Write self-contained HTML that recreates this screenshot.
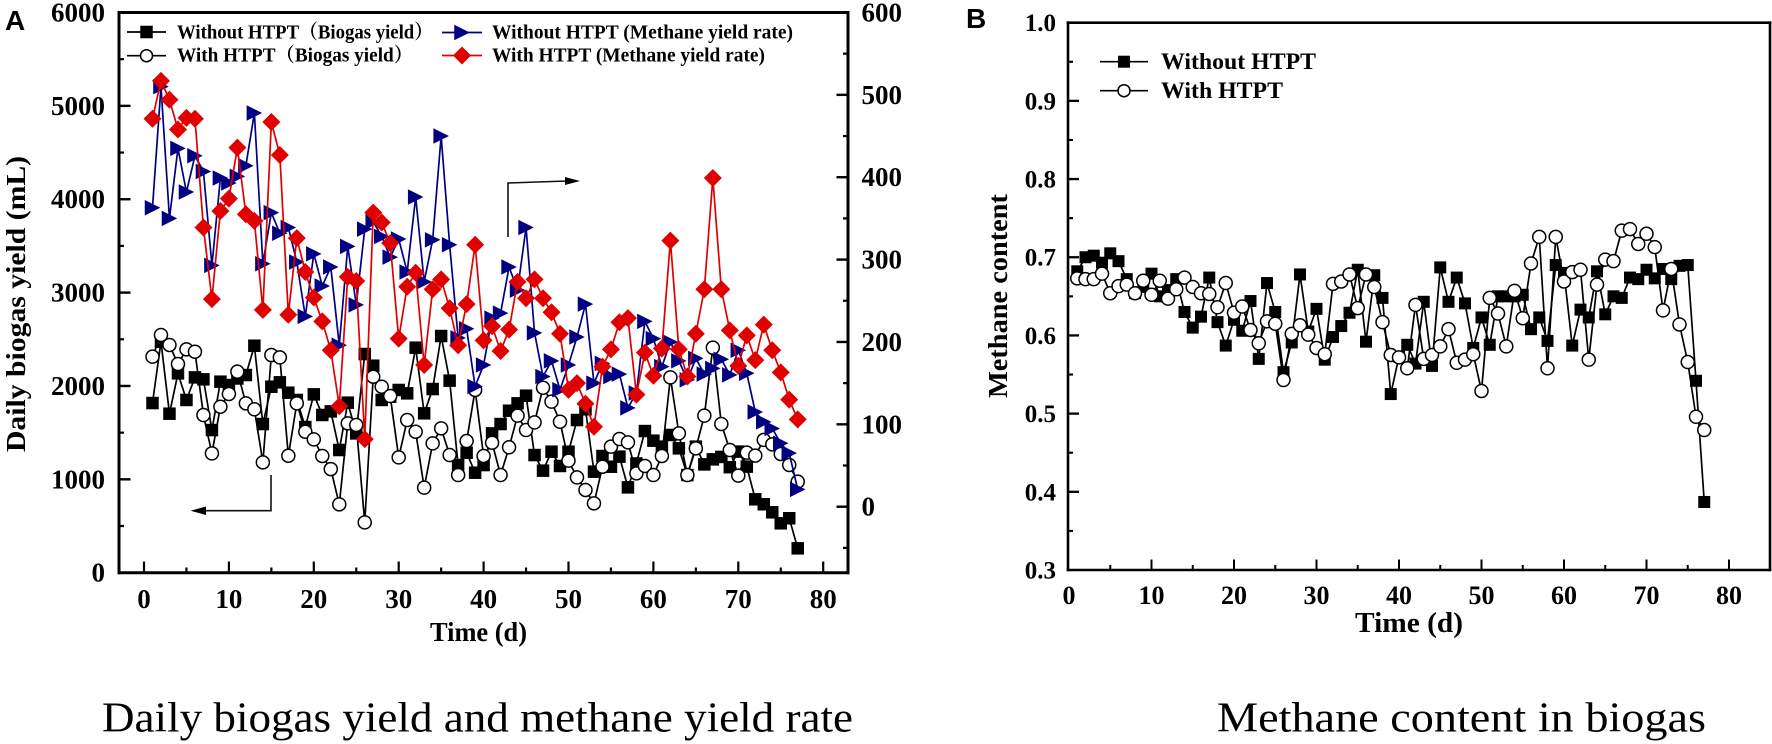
<!DOCTYPE html>
<html lang="en">
<head>
<meta charset="utf-8">
<title>Daily biogas yield, methane yield rate and methane content</title>
<style>
html,body{margin:0;padding:0;background:#fff;width:1772px;height:744px;overflow:hidden}
svg{display:block}
text{font-family:"Liberation Serif","Noto Serif CJK SC",serif;fill:#000}
.b{font-weight:bold}
</style>
</head>
<body>
<svg id="fig" xmlns="http://www.w3.org/2000/svg" width="1772" height="744" viewBox="0 0 1772 744">
  <rect x="0" y="0" width="1772" height="744" fill="#fff"/>

  <g id="panelA">
    <text x="5" y="30" style="font-family:'Liberation Sans',sans-serif;font-weight:bold;font-size:28px">A</text>
    <g id="axesA"></g>
    <g id="marksA"></g>
    <text class="b" transform="translate(25,452) rotate(-90)" font-size="27" textLength="296" lengthAdjust="spacingAndGlyphs">Daily biogas yield (mL)</text>
    <text class="b" x="430" y="641" font-size="27" textLength="97" lengthAdjust="spacingAndGlyphs">Time (d)</text>
    <path d="M271 475V510.7H204" fill="none" stroke="#111" stroke-width="1.6"/>
    <path d="M190.5 510.7L206 506.5V515Z" fill="#000"/>
    <path d="M508 237V183L567 181" fill="none" stroke="#111" stroke-width="1.6"/>
    <path d="M580 181L565 177V185Z" fill="#000"/>
    <g id="legendA">
      <text class="b" x="177" y="38.5" font-size="20" textLength="256" lengthAdjust="spacingAndGlyphs">Without HTPT（Biogas yield）</text>
      <text class="b" x="177" y="61.7" font-size="20" textLength="236" lengthAdjust="spacingAndGlyphs">With HTPT（Biogas yield）</text>
      <text class="b" x="492" y="38.5" font-size="20" textLength="301" lengthAdjust="spacingAndGlyphs">Without HTPT (Methane yield rate)</text>
      <text class="b" x="492" y="61.7" font-size="20" textLength="273" lengthAdjust="spacingAndGlyphs">With HTPT (Methane yield rate)</text>
    </g>
  </g>

  <g id="panelB">
    <text x="966" y="28" style="font-family:'Liberation Sans',sans-serif;font-weight:bold;font-size:28px">B</text>
    <g id="axesB"></g>
    <g id="marksB"></g>
    <text class="b" transform="translate(1007,398) rotate(-90)" font-size="27" textLength="204" lengthAdjust="spacingAndGlyphs">Methane content</text>
    <text class="b" x="1355" y="632" font-size="28" textLength="108" lengthAdjust="spacingAndGlyphs">Time (d)</text>
    <g id="legendB">
      <text class="b" x="1161" y="69" font-size="23" textLength="155" lengthAdjust="spacingAndGlyphs">Without HTPT</text>
      <text class="b" x="1161" y="98" font-size="23" textLength="122" lengthAdjust="spacingAndGlyphs">With HTPT</text>
    </g>
  </g>

  <text x="102" y="731.5" font-size="42" textLength="751" lengthAdjust="spacingAndGlyphs">Daily biogas yield and methane yield rate</text>
  <text x="1217" y="731.5" font-size="42" textLength="489" lengthAdjust="spacingAndGlyphs">Methane content in biogas</text>
</svg>

<script>
const biogasWithout = [1817,2474,1703,2135,1850,2092,2071,1528,2046,2010,2080,2117,2431,1592,1992,2039,1928,1850,1560,1910,1689,1728,1314,1821,1492,2342,2217,1850,1885,1957,1921,2410,1707,1967,2535,2057,1153,1285,1071,1153,1492,1592,1735,1814,1896,1260,1093,1296,1143,1296,1635,1750,1082,1250,1135,1243,914,1170,1517,1414,1350,1475,1332,1046,1350,1160,1214,1240,1130,1297,1136,786,733,647,529,583,261];
const biogasWith = [2314,2546,2439,2235,2392,2367,1689,1278,1778,1914,2153,1814,1750,1182,2331,2306,1253,1814,1510,1428,1250,1110,732,1600,1582,539,2099,1992,1892,1235,1635,1510,911,1385,1546,1260,1046,1410,1957,1250,1392,1046,1343,1682,1528,1610,1981,1832,1617,1200,1021,886,743,1135,1350,1432,1396,1064,1143,1046,1250,2092,1492,1046,1332,1682,2410,1593,1314,1040,1286,1254,1422,1375,1272,1154,975];
const rateWithout = [363,510,350,435,382,426,407,293,399,393,401,414,478,295,357,332,339,297,231,307,268,291,196,316,245,337,346,328,303,325,285,376,273,324,450,318,205,216,146,172,229,235,291,263,339,211,158,177,142,172,206,246,150,174,158,161,120,138,225,204,170,200,177,154,180,161,168,179,160,190,162,115,103,95,77,65,21];
const rateWith = [471,517,494,458,472,471,339,252,359,374,436,355,347,239,467,427,233,326,285,254,225,190,122,279,274,82,357,345,320,204,267,284,172,264,276,241,196,246,318,202,219,189,215,273,253,276,253,236,210,142,150,125,97,170,191,224,229,136,187,159,192,323,191,158,210,264,399,264,214,171,208,178,221,190,163,130,106];
const contentWithout = [0.682,0.7,0.702,0.693,0.705,0.695,0.672,0.654,0.662,0.679,0.65,0.658,0.672,0.63,0.61,0.624,0.674,0.617,0.587,0.62,0.606,0.644,0.57,0.667,0.63,0.553,0.591,0.678,0.605,0.634,0.569,0.598,0.612,0.629,0.684,0.592,0.677,0.648,0.525,0.573,0.588,0.564,0.643,0.561,0.687,0.643,0.674,0.641,0.584,0.623,0.588,0.65,0.65,0.65,0.652,0.608,0.623,0.593,0.69,0.68,0.587,0.633,0.623,0.682,0.627,0.65,0.648,0.674,0.672,0.684,0.673,0.685,0.672,0.689,0.69,0.542,0.387];
const contentWith = [0.673,0.672,0.672,0.679,0.654,0.663,0.665,0.654,0.67,0.652,0.67,0.647,0.659,0.674,0.662,0.654,0.653,0.636,0.667,0.629,0.637,0.607,0.59,0.618,0.615,0.543,0.602,0.613,0.601,0.584,0.576,0.666,0.669,0.678,0.635,0.678,0.662,0.617,0.575,0.572,0.558,0.639,0.57,0.575,0.586,0.608,0.565,0.569,0.576,0.529,0.648,0.628,0.586,0.657,0.622,0.692,0.726,0.558,0.726,0.669,0.681,0.684,0.569,0.665,0.697,0.695,0.734,0.736,0.717,0.73,0.713,0.632,0.685,0.614,0.566,0.496,0.479];
const xTickLabels = [0,10,20,30,40,50,60,70,80];
const xMinorTicks = [5,15,25,35,45,55,65,75];
const leftTickLabels = [0,1000,2000,3000,4000,5000,6000];
const leftMinorTicks = [500,1500,2500,3500,4500,5500];
const rightTickLabels = [0,100,200,300,400,500,600];
const rightMinorTicks = [-50,50,150,250,350,450,550];
const contentTickLabels = [0.3,0.4,0.5,0.6,0.7,0.8,0.9,1.0];
const contentMinorTicks = [0.35,0.45,0.55,0.65,0.75,0.85,0.95];

const NS = 'http://www.w3.org/2000/svg';
function make(parent, tag, attrs, txt) {
  const n = document.createElementNS(NS, tag);
  for (const k in attrs) n.setAttribute(k, attrs[k]);
  if (txt !== undefined) n.textContent = txt;
  parent.appendChild(n);
  return n;
}
// axis functions
const xA = d => 144 + 8.49 * d;
const yLeft = v => 572.7 - v * (560.2 / 6000);
const yRight = v => 506.7 - v * 0.8237;
const xB = d => 1069 + 8.25 * d;
const yB = v => 570 - (v - 0.3) * 781.9;

function drawMarker(g, kind, x, y, s) {
  let m;
  if (kind === 'square') {
    m = make(g, 'rect', {x: x - s / 2, y: y - s / 2, width: s, height: s, fill: '#000'});
  } else if (kind === 'circle') {
    m = make(g, 'circle', {cx: x, cy: y, r: s / 2, fill: '#fff', stroke: '#000', 'stroke-width': 1.5});
  } else if (kind === 'triangle') {
    m = make(g, 'path', {d: 'M' + (x - s / 2) + ' ' + (y - s / 2) + 'L' + (x + s / 2) + ' ' + y + 'L' + (x - s / 2) + ' ' + (y + s / 2) + 'Z', fill: '#000080'});
  } else {
    m = make(g, 'path', {d: 'M' + x + ' ' + (y - s / 2) + 'L' + (x + s / 2) + ' ' + y + 'L' + x + ' ' + (y + s / 2) + 'L' + (x - s / 2) + ' ' + y + 'Z', fill: '#e00000'});
  }
  return m;
}

function drawSeries(parent, values, xf, yf, kind, size, color, offset) {
  const g = make(parent, 'g', {});
  const pts = values.map((v, i) => xf(i + 1) + ',' + yf(v)).join(' ');
  const line = make(g, 'polyline', {points: pts, fill: 'none', stroke: color, 'stroke-width': 1.7, 'stroke-linejoin': 'round'});
  
  
  values.forEach((v, i) => {
    const m = drawMarker(g, kind, xf(i + 1) + offset, yf(v), size);
    
    
  });
  return g;
}

function legendSample(parent, x1, x2, y, kind, size, color) {
  const l = make(parent, 'line', {x1: x1, x2: x2, y1: y, y2: y, stroke: color, 'stroke-width': 1.7});
  
  
  const m = drawMarker(parent, kind, (x1 + x2) / 2, y, size);
  
  
}

function axisLine(parent, x1, y1, x2, y2, w) {
  const l = make(parent, 'line', {x1: x1, y1: y1, x2: x2, y2: y2, stroke: '#000', 'stroke-width': w, 'stroke-linecap': 'square'});
  
  
}
function tick(parent, x1, y1, x2, y2, w) {
  const l = make(parent, 'line', {x1: x1, y1: y1, x2: x2, y2: y2, stroke: '#000', 'stroke-width': w});
  
  
}
function label(parent, x, y, anchor, size, str) {
  const t = make(parent, 'text', {x: x, y: y, 'text-anchor': anchor, 'font-size': size, 'font-weight': 'bold'}, str);
  
  
}

// Panel A axes
const axesA = document.getElementById('axesA');
axisLine(axesA, 119, 12.5, 848, 12.5, 3);
axisLine(axesA, 119, 12.5, 119, 572.7, 3);
axisLine(axesA, 848, 12.5, 848, 572.7, 3);
axisLine(axesA, 119, 572.7, 848, 572.7, 3);
leftTickLabels.forEach(v => {
  if (v > 0) tick(axesA, 119, yLeft(v), 130.5, yLeft(v), 2.4);
  label(axesA, 105, yLeft(v) + 9, 'end', 27, String(v));
});
leftMinorTicks.forEach(v => tick(axesA, 119, yLeft(v), 124, yLeft(v), 2.2));
rightTickLabels.forEach(v => {
  tick(axesA, 848, yRight(v), 836.5, yRight(v), 2.4);
  label(axesA, 861.5, yRight(v) + 9, 'start', 27, String(v));
});
rightMinorTicks.forEach(v => tick(axesA, 848, yRight(v), 843, yRight(v), 2.2));
xTickLabels.forEach(d => {
  tick(axesA, xA(d), 572.7, xA(d), 561.5, 2.2);
  label(axesA, xA(d), 608, 'middle', 27, String(d));
});
xMinorTicks.forEach(d => tick(axesA, xA(d), 572.7, xA(d), 567.5, 2.2));

// Panel A series
const marksA = document.getElementById('marksA');
const sBioNo = drawSeries(marksA, biogasWithout, xA, yLeft, 'square', 12.5, '#000', 0);


const sBioWith = drawSeries(marksA, biogasWith, xA, yLeft, 'circle', 13, '#000', 0);


const sRateNo = drawSeries(marksA, rateWithout, xA, yRight, 'triangle', 15.5, '#000080', 0);


const sRateWith = drawSeries(marksA, rateWith, xA, yRight, 'diamond', 18, '#e00000', 0);



const legendA = document.getElementById('legendA');
legendSample(legendA, 127, 166, 32, 'square', 12.5, '#000');
legendSample(legendA, 127, 166, 55.7, 'circle', 12, '#000');
legendSample(legendA, 442, 482, 32.5, 'triangle', 15.5, '#000080');
legendSample(legendA, 442, 482, 55.5, 'diamond', 18, '#e00000');

// Panel B axes
const axesB = document.getElementById('axesB');
axisLine(axesB, 1068, 22.7, 1770, 22.7, 2.6);
axisLine(axesB, 1068, 22.7, 1068, 570, 2.6);
axisLine(axesB, 1770, 22.7, 1770, 570, 2.6);
axisLine(axesB, 1068, 570, 1770, 570, 2.6);
contentTickLabels.forEach(v => {
  if (v > 0.3) tick(axesB, 1068, yB(v), 1079, yB(v), 2.3);
  label(axesB, 1056, yB(v) + 8.5, 'end', 25, v.toFixed(1));
});
contentMinorTicks.forEach(v => tick(axesB, 1068, yB(v), 1073, yB(v), 2.1));
xTickLabels.forEach(d => {
  if (d > 0) tick(axesB, xB(d), 570, xB(d), 559.5, 2);
  label(axesB, xB(d), 604, 'middle', 26, String(d));
});
xMinorTicks.forEach(d => tick(axesB, xB(d), 570, xB(d), 565, 2));

// Panel B series
const marksB = document.getElementById('marksB');
const sContentNo = drawSeries(marksB, contentWithout, xB, yB, 'square', 12, '#000', 0);


const sContentWith = drawSeries(marksB, contentWith, xB, yB, 'circle', 13, '#000', 0);



const legendB = document.getElementById('legendB');
legendSample(legendB, 1100, 1148, 61.7, 'square', 12, '#000');
legendSample(legendB, 1100, 1148, 90.7, 'circle', 12, '#000');
</script>
</body>
</html>
